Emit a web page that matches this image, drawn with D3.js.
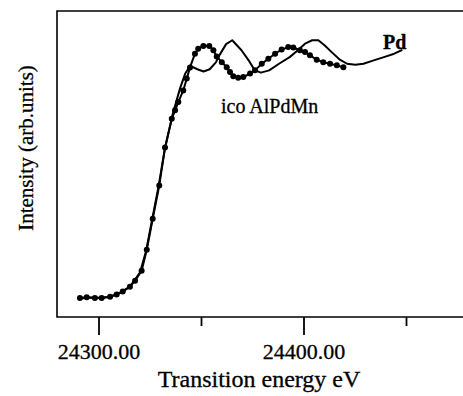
<!DOCTYPE html>
<html lang="en">
<head>
<meta charset="UTF-8">
<title>Pd K-edge XANES</title>
<script src="https://cdnjs.cloudflare.com/ajax/libs/d3/7.8.5/d3.min.js"></script>
<style>
  body { margin: 0; background: #fff; }
  svg text { font-family: "Liberation Serif", "DejaVu Serif", serif; fill: #000; stroke: #000; stroke-width: 0.3px; }
</style>
</head>
<body>
<div id="chart"></div>
<script>
// ico AlPdMn (dotted curve)
const icoEnergy = [24290.7, 24294.0, 24298.0, 24301.3, 24305.4, 24308.6, 24311.6, 24315.1, 24317.6,
  24320.8, 24323.3, 24326.2, 24329.4, 24332.2, 24335.5, 24337.1, 24338.7, 24341.1, 24342.8,
  24344.4, 24346.8, 24348.4, 24350.9, 24353.8, 24355.8, 24357.4, 24359.9, 24362.3, 24363.9,
  24365.5, 24367.9, 24370.4, 24373.7, 24376.1, 24379.4, 24382.6, 24385.9, 24389.1, 24392.3,
  24394.8, 24398.0, 24400.5, 24402.9, 24406.2, 24409.4, 24412.7, 24416.0, 24419.2];
const icoInt = [0.003, 0.006, 0.003, 0.003, 0.009, 0.018, 0.032, 0.053, 0.079,
  0.123, 0.214, 0.350, 0.496, 0.662, 0.788, 0.825, 0.861, 0.912, 0.964,
  1.013, 1.073, 1.095, 1.107, 1.107, 1.088, 1.061, 1.036, 1.014, 0.993,
  0.974, 0.968, 0.971, 0.986, 1.000, 1.029, 1.051, 1.073, 1.091, 1.102,
  1.100, 1.088, 1.080, 1.066, 1.047, 1.036, 1.029, 1.022, 1.014];

// Pd foil (solid line)
const pdEnergy = [24290, 24295, 24300, 24305, 24310, 24315, 24320, 24323, 24326, 24329, 24332,
  24336, 24339.5, 24342, 24344.5, 24348, 24351, 24354, 24357, 24359, 24362, 24365,
  24369.5, 24373, 24376, 24379, 24383, 24388, 24393, 24397, 24400.5, 24404, 24407,
  24410, 24413.5, 24417.5, 24421, 24425, 24429, 24434, 24439, 24444, 24448];
const pdInt = [0.000, 0.005, 0.004, 0.008, 0.025, 0.052, 0.115, 0.210, 0.350, 0.490, 0.650,
  0.810, 0.920, 0.985, 1.020, 1.005, 0.995, 1.005, 1.035, 1.070, 1.115, 1.132,
  1.088, 1.044, 1.000, 0.990, 1.000, 1.030, 1.058, 1.088, 1.117, 1.132, 1.132,
  1.110, 1.080, 1.047, 1.029, 1.025, 1.029, 1.044, 1.058, 1.073, 1.090];

const majorTicks = [24300, 24400];
const minorTicks = [24350, 24450];
const tickLabels = ["24300.00", "24400.00"];

const width = 463, height = 396;
const frameLeft = 57, frameTop = 11, frameBottom = 317, frameRight = 470;

const svg = d3.select("#chart").append("svg")
  .attr("width", width).attr("height", height);

const x = d3.scaleLinear().domain([24300, 24400]).range([99, 304]);
const y = d3.scaleLinear().domain([-0.08, 1.26]).range([frameBottom, frameTop]);

// frame (open to the right, runs off the picture)
svg.append("path")
  .attr("d", `M${frameRight},${frameTop}H${frameLeft}V${frameBottom}H${frameRight}`)
  .attr("fill", "none").attr("stroke", "#000").attr("stroke-width", 1.6);

svg.selectAll(".major").data(majorTicks).enter().append("line")
  .attr("x1", d => x(d)).attr("x2", d => x(d))
  .attr("y1", frameBottom).attr("y2", frameBottom + 18)
  .attr("stroke", "#000").attr("stroke-width", 1.8);

svg.selectAll(".minor").data(minorTicks).enter().append("line")
  .attr("x1", d => x(d)).attr("x2", d => x(d))
  .attr("y1", frameBottom).attr("y2", frameBottom + 9)
  .attr("stroke", "#000").attr("stroke-width", 1.8);

svg.selectAll(".tlab").data(majorTicks).enter().append("text")
  .attr("x", d => x(d)).attr("y", 359)
  .attr("text-anchor", "middle").attr("font-size", 22)
  .text((d, i) => tickLabels[i]);

svg.append("text")
  .attr("x", 259).attr("y", 387)
  .attr("text-anchor", "middle").attr("font-size", 24)
  .text("Transition energy eV");

svg.append("text")
  .attr("transform", "translate(33,148) rotate(-90)")
  .attr("text-anchor", "middle").attr("font-size", 21)
  .text("Intensity (arb.units)");

const line = d3.line().x(d => x(d[0])).y(d => y(d[1]));

const pd = pdEnergy.map((e, i) => [e, pdInt[i]]);
const ico = icoEnergy.map((e, i) => [e, icoInt[i]]);

svg.append("path").datum(pd)
  .attr("d", line).attr("fill", "none")
  .attr("stroke", "#000").attr("stroke-width", 2).attr("stroke-linejoin", "round");

svg.append("path").datum(ico)
  .attr("d", line).attr("fill", "none")
  .attr("stroke", "#000").attr("stroke-width", 2).attr("stroke-linejoin", "round");

svg.selectAll(".dot").data(ico).enter().append("circle")
  .attr("cx", d => x(d[0])).attr("cy", d => y(d[1]))
  .attr("r", 3).attr("fill", "#000");

svg.append("text")
  .attr("x", x(24438.5)).attr("y", y(1.095))
  .attr("font-size", 20).attr("font-weight", "bold")
  .text("Pd");

svg.append("text")
  .attr("x", x(24359.5)).attr("y", y(0.815))
  .attr("font-size", 20)
  .text("ico AlPdMn");
</script>
</body>
</html>
